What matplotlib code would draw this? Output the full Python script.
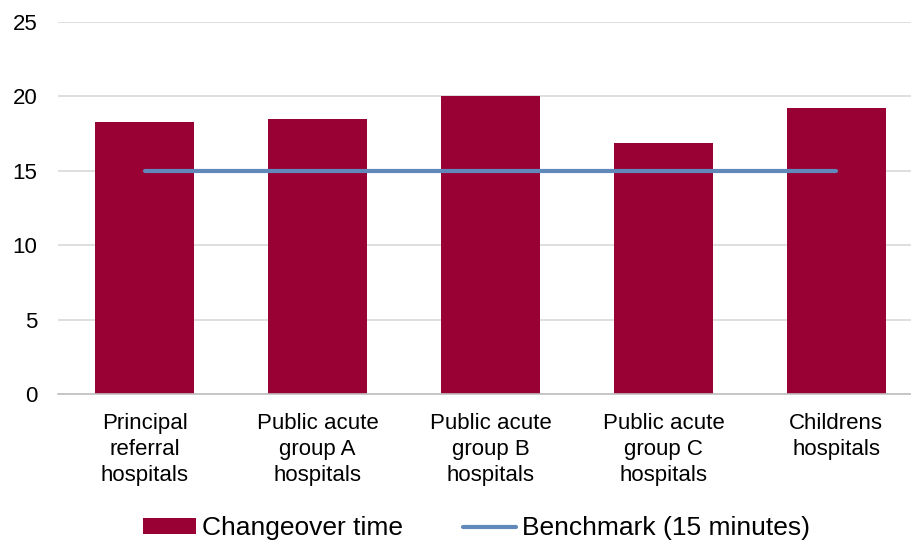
import matplotlib
matplotlib.use("Agg")
from matplotlib import pyplot as plt
import numpy as np

categories = ["Principal\nreferral\nhospitals",
              "Public acute\ngroup A\nhospitals",
              "Public acute\ngroup B\nhospitals",
              "Public acute\ngroup C\nhospitals",
              "Childrens\nhospitals"]
changeover = [18.3, 18.5, 20.0, 16.9, 19.2]
benchmark = [15, 15, 15, 15, 15]
yticks = [0, 5, 10, 15, 20, 25]

plt.rcParams['font.family'] = ['Liberation Sans', 'DejaVu Sans']

fig = plt.figure(figsize=(9.11, 5.44), dpi=100)
ax = fig.add_axes([0.0637, 0.2757, 1.013 - 0.0637, 0.9596 - 0.2757])

x = np.arange(len(categories))
bars = ax.bar(x, changeover, width=0.57, color='#990033', zorder=2)
line, = ax.plot(x, benchmark, color='#6088bb', lw=3, solid_capstyle='round', zorder=3)

ax.set_xlim(-0.5, 4.5)
ax.set_ylim(0, 25)
ax.set_yticks(yticks)
ax.set_xticks(x)
ax.set_xticklabels(categories, fontsize=16, linespacing=1.3)
ax.tick_params(axis='y', labelsize=16, length=0, pad=15)
ax.tick_params(axis='x', length=0, pad=14)
ax.grid(axis='y', color='#d9d9d9', lw=1.2, zorder=0)

for s in ['top', 'right', 'left']:
    ax.spines[s].set_visible(False)
ax.spines['bottom'].set_color('#bfbfbf')
ax.spines['bottom'].set_linewidth(1.2)

fig.legend([bars, line], ['Changeover time', 'Benchmark (15 minutes)'],
           loc='center', bbox_to_anchor=(0.523, 0.029), ncol=2, frameon=False,
           fontsize=19, handlelength=2.0, handleheight=0.53, handletextpad=0.23,
           columnspacing=2.3, borderaxespad=0, borderpad=0)

fig.savefig('out.png', dpi=100)
